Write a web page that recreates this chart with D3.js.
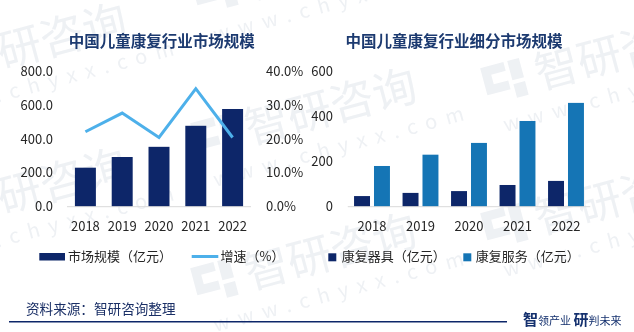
<!DOCTYPE html>
<html>
<head>
<meta charset="utf-8">
<script src="https://cdn.jsdelivr.net/npm/d3@7"></script>
<style>
  html, body { margin: 0; padding: 0; background: #fff; }
  svg { display: block; font-family: "Noto Sans CJK SC", "Noto Sans", sans-serif; }
</style>
</head>
<body>
<div id="container"></div>
<script>
const width = 634;
const height = 332;

// data
const years = ["2018", "2019", "2020", "2021", "2022"];
const marketSize = [230, 293, 353, 477, 576];     // 亿元
const growthRate = [22.1, 27.6, 20.4, 34.8, 20.4]; // %
const equipment = [47, 61, 69, 96, 114];          // 亿元
const services = [180, 230, 282, 379, 459];        // 亿元
const leftTicks = [0, 200, 400, 600, 800];
const rateTicks = [0, 10, 20, 30, 40];
const rightTicks = [0, 200, 400, 600];
const segKeys = ["康复器具（亿元）", "康复服务（亿元）"];

const navy = "#0d2669";
const blue = "#1575b5";
const lightBlue = "#4db0ea";
const titleColor = "#1c3a70";
const tickColor = "#262626";

const svg = d3.create("svg")
  .attr("width", width)
  .attr("height", height)
  .attr("viewBox", [0, 0, width, height]);

svg.append("rect").attr("width", width).attr("height", height).attr("fill", "#fff");

// faint tiled watermark
const marks = [[-90, 95], [200, 15], [200, 160], [200, 305], [490, 105], [490, 250], [-90, 240]];
const wm = svg.append("g").attr("fill", "#dde2e9").attr("opacity", 0.5);
marks.forEach(([mx, my]) => {
  const g = wm.append("g").attr("transform", `translate(${mx},${my}) rotate(-15)`);
  g.append("path").attr("d", "M0,-38h24v9h-15v10h15v9h-24z M28,-38h12v20h-12z M28,-14h12v14h-12z");
  g.append("text").attr("x", 52).attr("y", -2).attr("font-size", 44).text("智研咨询");
  g.append("text").attr("x", 8).attr("y", 30).attr("font-size", 20)
    .attr("letter-spacing", 9).text("www.chyxx.com");
});

// ---- left chart: market size + growth ----
const xL = d3.scaleBand().domain(years).range([67, 251]).paddingInner(0.43).paddingOuter(0.215);
const yL = d3.scaleLinear().domain([0, 800]).range([206.7, 71]);
const yR = d3.scaleLinear().domain([0, 40]).range([206.7, 71]);

svg.append("g").attr("fill", navy)
  .selectAll("rect")
  .data(marketSize)
  .join("rect")
    .attr("x", (d, i) => xL(years[i]))
    .attr("y", d => yL(d))
    .attr("width", xL.bandwidth())
    .attr("height", d => yL(0) - yL(d));

svg.append("line")
  .attr("x1", xL.range()[0]).attr("x2", xL.range()[1])
  .attr("y1", yL(0)).attr("y2", yL(0))
  .attr("stroke", "#d9d9d9");

svg.append("path")
  .datum(growthRate)
  .attr("fill", "none")
  .attr("stroke", lightBlue)
  .attr("stroke-width", 3)
  .attr("d", d3.line().x((d, i) => xL(years[i]) + xL.bandwidth() / 2).y(d => yR(d)));

const styleAxis = g => {
  g.select(".domain").remove();
  g.selectAll("text").attr("fill", tickColor).attr("font-size", 13)
    .attr("font-family", "'Noto Sans CJK SC', sans-serif");
};

svg.append("g").attr("transform", "translate(53,0)")
  .call(d3.axisLeft(yL).tickValues(leftTicks).tickFormat(d3.format(".1f")).tickSize(0).tickPadding(0))
  .call(styleAxis);

svg.append("g").attr("transform", "translate(266,0)")
  .call(d3.axisRight(yR).tickValues(rateTicks).tickFormat(d => d.toFixed(1) + "%").tickSize(0).tickPadding(0))
  .call(styleAxis);

svg.append("g").attr("transform", `translate(0,${yL(0)})`)
  .call(d3.axisBottom(xL).tickSize(0).tickPadding(15))
  .call(styleAxis);

// ---- right chart: segments ----
const x0 = d3.scaleBand().domain(years).range([347.75, 590.25]).paddingInner(0.26).paddingOuter(0.13);
const x1 = d3.scaleBand().domain(segKeys).range([0, x0.bandwidth()]).paddingInner(0.2);
const y2 = d3.scaleLinear().domain([0, 600]).range([206.7, 71]);
const segColor = d3.scaleOrdinal().domain(segKeys).range([navy, blue]);

const segRows = years.map((yr, i) => ({ year: yr, values: [equipment[i], services[i]] }));

svg.append("g")
  .selectAll("g")
  .data(segRows)
  .join("g")
    .attr("transform", d => `translate(${x0(d.year)},0)`)
  .selectAll("rect")
  .data(d => d.values.map((v, k) => ({ key: segKeys[k], value: v })))
  .join("rect")
    .attr("x", d => x1(d.key))
    .attr("y", d => y2(d.value))
    .attr("width", x1.bandwidth())
    .attr("height", d => y2(0) - y2(d.value))
    .attr("fill", d => segColor(d.key));

svg.append("line")
  .attr("x1", x0.range()[0]).attr("x2", x0.range()[1])
  .attr("y1", y2(0)).attr("y2", y2(0))
  .attr("stroke", "#d9d9d9");

svg.append("g").attr("transform", "translate(333,0)")
  .call(d3.axisLeft(y2).tickValues(rightTicks).tickSize(0).tickPadding(0))
  .call(styleAxis);

svg.append("g").attr("transform", `translate(0,${y2(0)})`)
  .call(d3.axisBottom(x0).tickSize(0).tickPadding(15))
  .call(styleAxis);

// ---- titles ----
const titles = [["中国儿童康复行业市场规模", 161.7], ["中国儿童康复行业细分市场规模", 454]];
svg.append("g")
  .selectAll("text")
  .data(titles)
  .join("text")
    .attr("x", d => d[1])
    .attr("y", 41)
    .attr("dy", "0.36em")
    .attr("text-anchor", "middle")
    .attr("font-size", 15.5)
    .attr("font-weight", "bold")
    .attr("fill", titleColor)
    .text(d => d[0]);

// ---- legends ----
const lg = svg.append("g").attr("font-size", 13).attr("fill", tickColor);
lg.append("rect").attr("x", 39.3).attr("y", 253).attr("width", 25.7).attr("height", 7.5).attr("fill", navy);
lg.append("text").attr("x", 68).attr("y", 256.7).attr("dy", "0.36em").text("市场规模（亿元）");
lg.append("line").attr("x1", 191.7).attr("x2", 218.3).attr("y1", 256.5).attr("y2", 256.5)
  .attr("stroke", lightBlue).attr("stroke-width", 3);
lg.append("text").attr("x", 220.5).attr("y", 256.7).attr("dy", "0.36em").text("增速（%）");

[[328.3, 341.7], [463.3, 475.7]].forEach(([sx, tx], k) => {
  lg.append("rect").attr("x", sx).attr("y", 253.3).attr("width", 8).attr("height", 8)
    .attr("fill", segColor(segKeys[k]));
  lg.append("text").attr("x", tx).attr("y", 256.7).attr("dy", "0.36em").text(segKeys[k]);
});

// ---- footer ----
svg.append("text")
  .attr("x", 26).attr("y", 309).attr("dy", "0.36em")
  .attr("font-size", 13.6).attr("fill", "#1a2f66")
  .text("资料来源：智研咨询整理");

svg.append("line")
  .attr("x1", 9).attr("x2", 507).attr("y1", 321.7).attr("y2", 321.7)
  .attr("stroke", navy).attr("stroke-width", 1.5);

const tag = svg.append("text").attr("x", 523).attr("y", 325).attr("fill", "#14306e");
tag.append("tspan").attr("font-size", 15).attr("font-weight", "bold").text("智");
tag.append("tspan").attr("font-size", 11).text("领产业 ");
tag.append("tspan").attr("font-size", 15).attr("font-weight", "bold").text("研");
tag.append("tspan").attr("font-size", 11).text("判未来");

document.getElementById("container").appendChild(svg.node());
</script>
</body>
</html>
